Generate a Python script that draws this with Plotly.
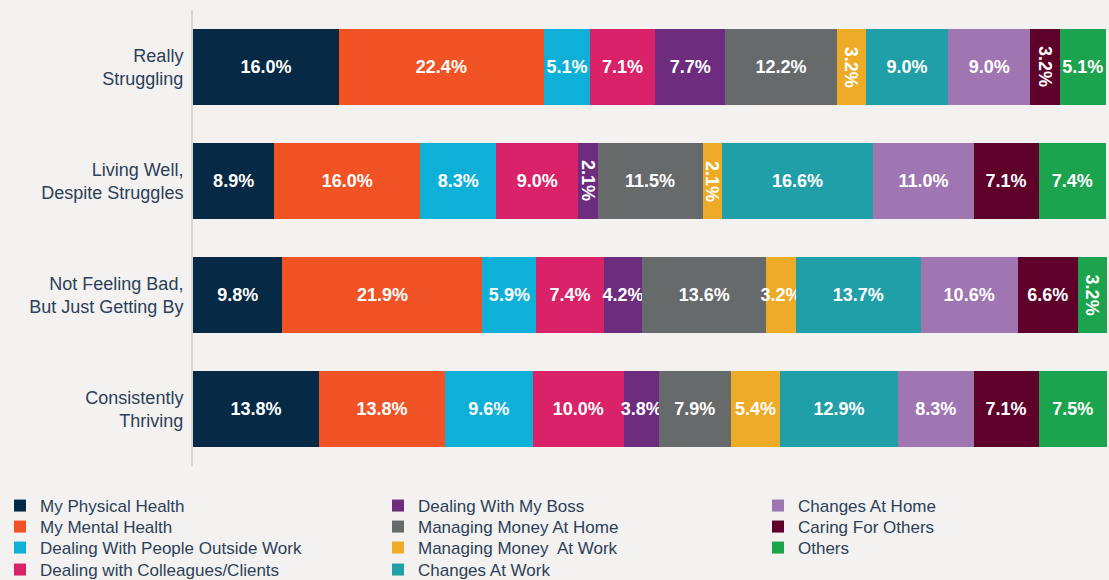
import plotly.graph_objects as go

categories = ["Really<br>Struggling", "Living Well,<br>Despite Struggles",
              "Not Feeling Bad,<br>But Just Getting By", "Consistently<br>Thriving"]

series_names = ["My Physical Health", "My Mental Health", "Dealing With People Outside Work",
                "Dealing with Colleagues/Clients", "Dealing With My Boss", "Managing Money At Home",
                "Managing Money  At Work", "Changes At Work", "Changes At Home",
                "Caring For Others", "Others"]

physical_health = [16.0, 8.9, 9.8, 13.8]
mental_health = [22.4, 16.0, 21.9, 13.8]
people_outside_work = [5.1, 8.3, 5.9, 9.6]
colleagues_clients = [7.1, 9.0, 7.4, 10.0]
my_boss = [7.7, 2.1, 4.2, 3.8]
money_home = [12.2, 11.5, 13.6, 7.9]
money_work = [3.2, 2.1, 3.2, 5.4]
changes_work = [9.0, 16.6, 13.7, 12.9]
changes_home = [9.0, 11.0, 10.6, 8.3]
caring_others = [3.2, 7.1, 6.6, 7.1]
others = [5.1, 7.4, 3.2, 7.5]

series_values = [physical_health, mental_health, people_outside_work, colleagues_clients,
                 my_boss, money_home, money_work, changes_work, changes_home,
                 caring_others, others]

colors = ["#062945", "#f15325", "#0fb0d8", "#d92268", "#6d2c7e", "#676a6b",
          "#eeab28", "#219fa8", "#9f76b2", "#5e0029", "#1ca34d"]

# labels drawn vertically: (series index, category index)
rotated_labels = {(6, 0), (9, 0), (4, 1), (6, 1), (10, 2)}

TEXT_COLOR = "#2d3f58"
FONT = "Liberation Sans"

fig = go.Figure()
legend_layouts = {}
col_x = [0, 378, 758]
row_y = [506, 527, 548, 570]

for i, (name, vals, col) in enumerate(zip(series_names, series_values, colors)):
    texts = ["" if (i, j) in rotated_labels else f"{v:.1f}%" for j, v in enumerate(vals)]
    lid = "legend" if i == 0 else f"legend{i + 1}"
    fig.add_trace(go.Bar(
        y=categories, x=vals, name=name, orientation="h",
        marker=dict(color=col, line=dict(width=0)),
        text=texts, textposition="inside", insidetextanchor="middle",
        textangle=0, constraintext="none", cliponaxis=False,
        textfont=dict(family=FONT, size=18, color="white", weight="bold"),
        legend=lid,
    ))
    c, r = i // 4, i % 4
    legend_layouts[lid] = dict(
        xref="container", yref="container",
        x=col_x[c] / 1109, y=1 - row_y[r] / 580,
        xanchor="left", yanchor="middle",
        bgcolor="rgba(0,0,0,0)", borderwidth=0,
        font=dict(family=FONT, size=17, color=TEXT_COLOR),
    )

# rotated labels for narrow segments
annotations = []
for (si, cj) in sorted(rotated_labels):
    left = sum(series_values[k][cj] for k in range(si))
    mid = left + series_values[si][cj] / 2
    annotations.append(dict(
        x=mid, y=categories[cj], xref="x", yref="y",
        text=f"<b>{series_values[si][cj]:.1f}%</b>", showarrow=False, textangle=90,
        font=dict(family=FONT, size=18, color="white"),
    ))

fig.update_layout(
    width=1109, height=580,
    barmode="stack", bargap=0.325,
    paper_bgcolor="#f3f2f0", plot_bgcolor="#f3f2f0",
    margin=dict(l=193, r=2, t=10, b=114, autoexpand=False),
    xaxis=dict(range=[0, 100.1], visible=False, fixedrange=True),
    yaxis=dict(
        categoryorder="array", categoryarray=categories, autorange="reversed",
        showline=True, linecolor="#d8d6d4", linewidth=2, showgrid=False,
        ticks="", ticklabelstandoff=4, zeroline=False,
        tickfont=dict(family=FONT, size=18, color=TEXT_COLOR),
    ),
    annotations=annotations,
    showlegend=True,
    **legend_layouts,
)

fig.write_html("out.html", config={"displayModeBar": False},
               post_script="document.body.style.margin='0';")
